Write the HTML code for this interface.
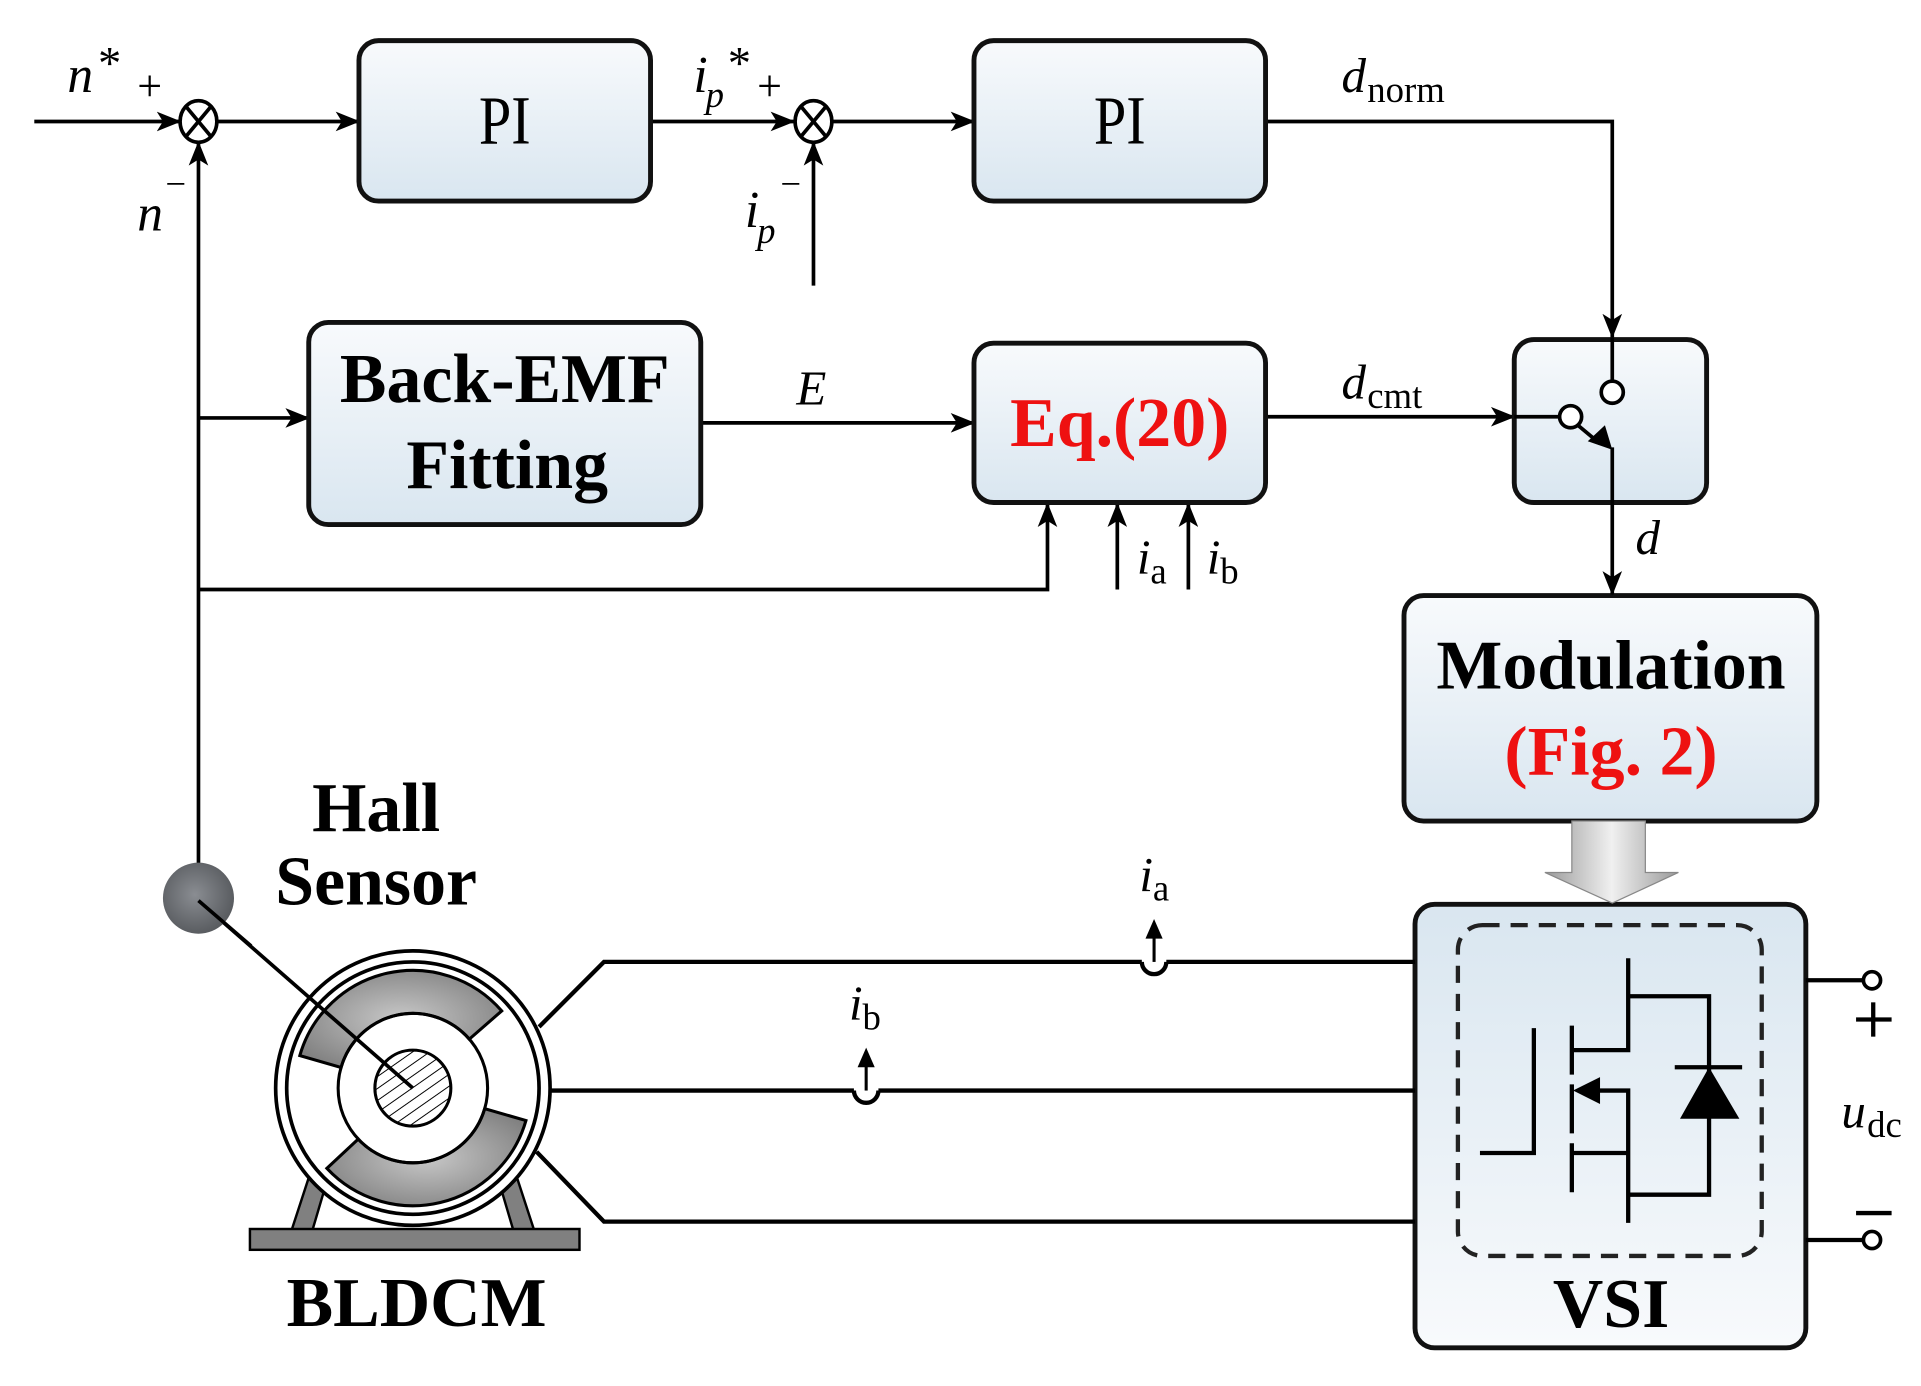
<!DOCTYPE html>
<html><head><meta charset="utf-8"><style>
html,body{margin:0;padding:0;background:#fff;}
svg{display:block;}
text{font-family:"Liberation Serif",serif;}
</style></head><body>
<svg width="1921" height="1386" viewBox="0 0 1568 1131" xmlns="http://www.w3.org/2000/svg">
<defs>
<linearGradient id="g1" x1="0" y1="0" x2="0" y2="1"><stop offset="0" stop-color="#f8fafc"/><stop offset="1" stop-color="#d9e6f0"/></linearGradient>
<linearGradient id="g2" x1="0" y1="0" x2="0" y2="1"><stop offset="0" stop-color="#d9e6f0"/><stop offset="1" stop-color="#f8fafc"/></linearGradient>
<linearGradient id="ga" x1="0" y1="0" x2="1" y2="0"><stop offset="0" stop-color="#9a9a9a"/><stop offset="0.5" stop-color="#f0f0f0"/><stop offset="1" stop-color="#9a9a9a"/></linearGradient>
<radialGradient id="gh" cx="0.45" cy="0.45" r="0.6"><stop offset="0" stop-color="#8a8d92"/><stop offset="1" stop-color="#55585c"/></radialGradient>
<radialGradient id="gm" cx="0.5" cy="0.5" r="0.6"><stop offset="0" stop-color="#c8c8c8"/><stop offset="1" stop-color="#808080"/></radialGradient>
<marker id="ar" viewBox="0 0 20 16" refX="19" refY="8" markerWidth="20" markerHeight="16" markerUnits="userSpaceOnUse" orient="auto"><path d="M0,0 L20,8 L0,16 L5,8 Z" fill="#000"/></marker>
<pattern id="hatch" width="8" height="8" patternUnits="userSpaceOnUse" patternTransform="rotate(-35)"><rect width="8" height="8" fill="#fff"/><line x1="0" y1="0" x2="8" y2="0" stroke="#000" stroke-width="1.6"/></pattern>
</defs>
<g stroke="#000" stroke-width="3" fill="none">
<line x1="28" y1="99" x2="147" y2="99" marker-end="url(#ar)"/>
<line x1="178" y1="99" x2="293" y2="99" marker-end="url(#ar)"/>
<line x1="531" y1="99" x2="648" y2="99" marker-end="url(#ar)"/>
<line x1="679" y1="99" x2="795" y2="99" marker-end="url(#ar)"/>
<polyline points="1033,99 1316,99 1316,275" marker-end="url(#ar)"/>
<line x1="664" y1="233" x2="664" y2="116" marker-end="url(#ar)"/>
<line x1="162" y1="705" x2="162" y2="116" marker-end="url(#ar)"/>
<line x1="162" y1="341" x2="252" y2="341" marker-end="url(#ar)"/>
<polyline points="162,481 855,481 855,411" marker-end="url(#ar)"/>
<line x1="912" y1="481" x2="912" y2="411" marker-end="url(#ar)"/>
<line x1="970" y1="481" x2="970" y2="411" marker-end="url(#ar)"/>
<line x1="572" y1="345" x2="795" y2="345" marker-end="url(#ar)"/>
<line x1="1033" y1="340" x2="1236" y2="340" marker-end="url(#ar)"/>
</g>
<g stroke="#000" stroke-width="3" fill="#fff">
<ellipse cx="162" cy="99" rx="15" ry="17"/>
<ellipse cx="664" cy="99" rx="15" ry="17"/>
</g>
<g stroke="#000" stroke-width="3">
<line x1="152" y1="87" x2="172" y2="111"/><line x1="172" y1="87" x2="152" y2="111"/>
<line x1="654" y1="87" x2="674" y2="111"/><line x1="674" y1="87" x2="654" y2="111"/>
</g>
<g stroke="#111" stroke-width="4">
<rect x="293" y="33" width="238" height="131" rx="16" fill="url(#g1)"/>
<rect x="795" y="33" width="238" height="131" rx="16" fill="url(#g1)"/>
<rect x="252" y="263" width="320" height="165" rx="16" fill="url(#g1)"/>
<rect x="795" y="280" width="238" height="130" rx="16" fill="url(#g1)"/>
<rect x="1236" y="277" width="157" height="133" rx="16" fill="url(#g1)"/>
<rect x="1146" y="486" width="337" height="184" rx="16" fill="url(#g1)"/>
<rect x="1155" y="738" width="319" height="362" rx="16" fill="url(#g2)"/>
</g>
<g stroke="#000" stroke-width="3" fill="none">
<line x1="1316" y1="275" x2="1316" y2="311"/>
<line x1="1236" y1="340" x2="1273" y2="340"/>
<line x1="1288" y1="347" x2="1306" y2="362"/>
<line x1="1316" y1="365" x2="1316" y2="485" marker-end="url(#ar)"/>
</g>
<path d="M1316,367 L1296,360 L1310,347 Z" fill="#000"/>
<circle cx="1316" cy="320" r="9" fill="#fff" stroke="#000" stroke-width="3"/>
<circle cx="1282" cy="340" r="9" fill="#fff" stroke="#000" stroke-width="3"/>
<path d="M1283,670 L1343,670 L1343,712 L1370,712 L1316,737 L1261,712 L1283,712 Z" fill="url(#ga)" stroke="#888" stroke-width="1"/>
<rect x="1190" y="755" width="248" height="270" rx="20" fill="none" stroke="#222" stroke-width="3.5" stroke-dasharray="14,9"/>
<g stroke="#000" stroke-width="3.5" fill="none">
<polyline points="1208,941 1252,941 1252,839"/>
<line x1="1283" y1="837" x2="1283" y2="877"/>
<line x1="1283" y1="885" x2="1283" y2="925"/>
<line x1="1283" y1="933" x2="1283" y2="973"/>
<polyline points="1283,857 1329,857 1329,782"/>
<polyline points="1329,813 1395,813 1395,975 1329,975"/>
<polyline points="1300,890 1329,890 1329,998"/>
<line x1="1283" y1="941" x2="1329" y2="941"/>
<line x1="1367" y1="871" x2="1422" y2="871"/>
</g>
<path d="M1284,890 L1306,879 L1306,901 Z" fill="#000"/>
<path d="M1373,912 L1418,912 L1395,873 Z" fill="#000" stroke="#000" stroke-width="2"/>
<g stroke="#000" stroke-width="3.5" fill="none">
<line x1="1474" y1="800" x2="1521" y2="800"/>
<line x1="1474" y1="1012" x2="1521" y2="1012"/>
<line x1="1515" y1="832" x2="1544" y2="832"/><line x1="1529" y1="818" x2="1529" y2="846"/>
<line x1="1515" y1="990" x2="1544" y2="990"/>
</g>
<circle cx="1528" cy="800" r="7" fill="#fff" stroke="#000" stroke-width="3"/>
<circle cx="1528" cy="1012" r="7" fill="#fff" stroke="#000" stroke-width="3"/>
<g stroke="#000" stroke-width="3.5" fill="none">
<polyline points="440,838 493,785 932,785"/>
<path d="M932,785 A10,10 0 0 0 952,785"/>
<line x1="952" y1="785" x2="1155" y2="785"/>
<line x1="450" y1="890" x2="697" y2="890"/>
<path d="M697,890 A10,10 0 0 0 717,890"/>
<line x1="717" y1="890" x2="1155" y2="890"/>
<polyline points="438,940 493,997 1155,997"/>
</g>
<g stroke="#000" stroke-width="2.5"><line x1="942" y1="785" x2="942" y2="760"/><line x1="707" y1="890" x2="707" y2="865"/></g>
<path d="M942,750 L935,766 L949,766 Z" fill="#000"/>
<path d="M707,855 L700,871 L714,871 Z" fill="#000"/>
<path d="M238,1004 L255,1004 L268,960 L254,955 Z" fill="#808080" stroke="#000" stroke-width="2"/>
<path d="M436,1004 L419,1004 L406,960 L420,955 Z" fill="#808080" stroke="#000" stroke-width="2"/>
<rect x="204" y="1003" width="269" height="17" fill="#808080" stroke="#000" stroke-width="2"/>
<circle cx="337" cy="888" r="112" fill="#fff" stroke="#000" stroke-width="3"/>
<circle cx="337" cy="888" r="103" fill="#fff" stroke="#000" stroke-width="3"/>
<path d="M244.7,861.5 A96,96 0 0 1 409.5,825.0 L383.1,848.0 A61,61 0 0 0 278.4,871.2 Z" fill="url(#gm)" stroke="#000" stroke-width="2.5"/>
<path d="M429.3,914.5 A96,96 0 0 1 266.8,953.5 L292.4,929.6 A61,61 0 0 0 395.6,904.8 Z" fill="url(#gm)" stroke="#000" stroke-width="2.5"/>
<circle cx="337" cy="888" r="61" fill="none" stroke="#000" stroke-width="2.5"/>
<circle cx="337" cy="888" r="31" fill="url(#hatch)" stroke="#000" stroke-width="2.5"/>
<line x1="162" y1="735" x2="337" y2="888" stroke="#000" stroke-width="3"/>
<circle cx="162" cy="733" r="29" fill="url(#gh)"/>
<line x1="162" y1="735" x2="205" y2="772" stroke="#000" stroke-width="3"/>
<g fill="#000">
<text x="412" y="117" font-size="56" text-anchor="middle" transform="translate(412 0) scale(0.85 1) translate(-412 0)">PI</text>
<text x="914" y="117" font-size="56" text-anchor="middle" transform="translate(914 0) scale(0.85 1) translate(-914 0)">PI</text>
<text x="412" y="328" font-size="57" font-weight="bold" text-anchor="middle">Back-EMF</text>
<text x="414" y="398" font-size="57" font-weight="bold" text-anchor="middle">Fitting</text>
<text x="914" y="364" font-size="57" font-weight="bold" text-anchor="middle" fill="#ee1111">Eq.(20)</text>
<text x="1315" y="562" font-size="57" font-weight="bold" text-anchor="middle">Modulation</text>
<text x="1315" y="632" font-size="57" font-weight="bold" text-anchor="middle" fill="#ee1111">(Fig. 2)</text>
<text x="1315" y="1083" font-size="57" font-weight="bold" text-anchor="middle">VSI</text>
<text x="307" y="678" font-size="57" font-weight="bold" text-anchor="middle">Hall</text>
<text x="307" y="738" font-size="57" font-weight="bold" text-anchor="middle">Sensor</text>
<text x="340" y="1082" font-size="57" font-weight="bold" text-anchor="middle">BLDCM</text>
<text x="55" y="75" font-size="42" font-style="italic">n</text><text x="80" y="64" font-size="38">*</text>
<text x="112" y="82" font-size="36">+</text>
<text x="112" y="188" font-size="42" font-style="italic">n</text><text x="135" y="160" font-size="30">−</text>
<text x="566" y="75" font-size="42" font-style="italic">i</text><text x="576" y="87" font-size="30" font-style="italic">p</text><text x="594" y="64" font-size="38">*</text>
<text x="618" y="82" font-size="36">+</text>
<text x="608" y="185" font-size="42" font-style="italic">i</text><text x="618" y="198" font-size="30" font-style="italic">p</text><text x="637" y="160" font-size="30">−</text>
<text x="1095" y="75" font-size="40" font-style="italic">d</text><text x="1116" y="83" font-size="30">norm</text>
<text x="650" y="330" font-size="40" font-style="italic">E</text>
<text x="1095" y="325" font-size="40" font-style="italic">d</text><text x="1116" y="333" font-size="30">cmt</text>
<text x="1335" y="452" font-size="40" font-style="italic">d</text>
<text x="928" y="468" font-size="40" font-style="italic">i</text><text x="939" y="476" font-size="30">a</text>
<text x="985" y="468" font-size="40" font-style="italic">i</text><text x="996" y="476" font-size="30">b</text>
<text x="930" y="727" font-size="40" font-style="italic">i</text><text x="941" y="735" font-size="30">a</text>
<text x="693" y="832" font-size="40" font-style="italic">i</text><text x="704" y="840" font-size="30">b</text>
<text x="1503" y="920" font-size="40" font-style="italic">u</text><text x="1524" y="928" font-size="30">dc</text>
</g>
</svg>
</body></html>
